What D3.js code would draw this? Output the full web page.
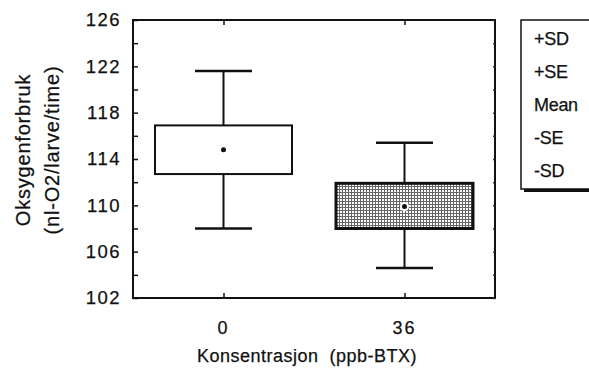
<!DOCTYPE html>
<html>
<head>
<meta charset="utf-8">
<script src="https://cdnjs.cloudflare.com/ajax/libs/d3/7.8.5/d3.min.js"></script>
<style>
  body { margin: 0; background: #fff; }
  text { font-family: "Liberation Sans", Arial, sans-serif; fill: #111; stroke: #111; stroke-width: 0.25px; }
</style>
</head>
<body>
<div id="chart"></div>
<script>
// data
var categories = ["0", "36"];
var sdHigh = [121.6, 115.4];
var seHigh = [116.9, 111.9];
var means = [114.8, 109.9];
var seLow = [112.7, 108.0];
var sdLow = [108.0, 104.6];
var yTicks = [102, 106, 110, 114, 118, 122, 126];
var yMinor = d3.range(102, 127, 2);
var legendLabels = ["+SD", "+SE", "Mean", "-SE", "-SD"];

var width = 589, height = 371;
var margin = { top: 20, right: 94, bottom: 73, left: 133 };

var svg = d3.select("#chart").append("svg")
    .attr("width", width)
    .attr("height", height);

var defs = svg.append("defs");
var pat = defs.append("pattern")
    .attr("id", "dots")
    .attr("width", 3).attr("height", 3)
    .attr("patternUnits", "userSpaceOnUse");
pat.append("rect").attr("width", 3).attr("height", 3).attr("fill", "#fff");
pat.append("rect").attr("width", 3).attr("height", 1).attr("fill", "#666");
pat.append("rect").attr("width", 1).attr("height", 3).attr("fill", "#666");

// scales
var x = d3.scalePoint()
    .domain(categories)
    .range([margin.left, width - margin.right])
    .padding(0.5);
var y = d3.scaleLinear()
    .domain([102, 126])
    .range([height - margin.bottom, margin.top]);

var x0 = margin.left, x1 = width - margin.right;
var y0 = y(102), y1 = y(126);

// frame
svg.append("rect")
    .attr("x", x0).attr("y", y1)
    .attr("width", x1 - x0).attr("height", y0 - y1)
    .attr("fill", "none").attr("stroke", "#111").attr("stroke-width", 2);

// left axis, ticks pointing inward
var leftAxis = svg.append("g")
    .attr("transform", "translate(" + x0 + ",0)")
    .call(d3.axisRight(y).tickValues(yMinor).tickSize(5).tickFormat(""));
leftAxis.select(".domain").remove();
leftAxis.selectAll("line").attr("stroke", "#111").attr("stroke-width", 1.5);

var leftLabels = svg.append("g")
    .attr("transform", "translate(" + (x0 - 12) + ",0)")
    .call(d3.axisLeft(y).tickValues(yTicks).tickSize(0).tickFormat(d3.format("d")));
leftLabels.select(".domain").remove();
leftLabels.selectAll("text")
    .attr("font-family", null)
    .attr("font-size", null)
    .style("font-size", "18.5px")
    .style("letter-spacing", "1.5px")
    .attr("x", 0)
    .attr("fill", "#111");

// right axis small ticks
var rightAxis = svg.append("g")
    .attr("transform", "translate(" + x1 + ",0)")
    .call(d3.axisLeft(y).tickValues(yMinor).tickSize(2).tickFormat(""));
rightAxis.select(".domain").remove();
rightAxis.selectAll("line").attr("stroke", "#333").attr("stroke-width", 1.5);

// top and bottom category ticks
var topAxis = svg.append("g")
    .attr("transform", "translate(0," + y1 + ")")
    .call(d3.axisBottom(x).tickSize(5).tickFormat(""));
topAxis.select(".domain").remove();
topAxis.selectAll("line").attr("stroke", "#111").attr("stroke-width", 1.5);

var bottomAxis = svg.append("g")
    .attr("transform", "translate(0," + y0 + ")")
    .call(d3.axisTop(x).tickSize(5).tickFormat(""));
bottomAxis.select(".domain").remove();
bottomAxis.selectAll("line").attr("stroke", "#111").attr("stroke-width", 1.5);

svg.append("g").selectAll("text")
    .data(categories)
    .enter().append("text")
    .attr("x", function (d) { return x(d); })
    .attr("y", 334)
    .attr("text-anchor", "middle")
    .style("font-size", "18px")
    .style("letter-spacing", "2px")
    .text(function (d) { return d; });

// axis titles
svg.append("text")
    .attr("x", 307).attr("y", 362)
    .attr("text-anchor", "middle")
    .style("font-size", "18px")
    .style("letter-spacing", "0.5px")
    .style("white-space", "pre")
    .text("Konsentrasjon  (ppb-BTX)");

svg.append("text")
    .attr("transform", "translate(30,150) rotate(-90)")
    .attr("text-anchor", "middle")
    .style("font-size", "20px")
    .style("letter-spacing", "0.8px")
    .text("Oksygenforbruk");
svg.append("text")
    .attr("transform", "translate(59,150) rotate(-90)")
    .attr("text-anchor", "middle")
    .style("font-size", "20px")
    .style("letter-spacing", "0.8px")
    .text("(nl-O2/larve/time)");

// boxes
var boxW = 137, capW = 57;
var groups = svg.append("g").selectAll("g")
    .data(categories)
    .enter().append("g");

groups.append("line")
    .attr("x1", function (d) { return x(d); })
    .attr("x2", function (d) { return x(d); })
    .attr("y1", function (d, i) { return y(sdHigh[i]); })
    .attr("y2", function (d, i) { return y(sdLow[i]); })
    .attr("stroke", "#111").attr("stroke-width", 2);

groups.append("line")
    .attr("x1", function (d) { return x(d) - capW / 2; })
    .attr("x2", function (d) { return x(d) + capW / 2; })
    .attr("y1", function (d, i) { return y(sdHigh[i]); })
    .attr("y2", function (d, i) { return y(sdHigh[i]); })
    .attr("stroke", "#111").attr("stroke-width", 2.5);

groups.append("line")
    .attr("x1", function (d) { return x(d) - capW / 2; })
    .attr("x2", function (d) { return x(d) + capW / 2; })
    .attr("y1", function (d, i) { return y(sdLow[i]); })
    .attr("y2", function (d, i) { return y(sdLow[i]); })
    .attr("stroke", "#111").attr("stroke-width", 2.5);

groups.append("rect")
    .attr("x", function (d) { return x(d) - boxW / 2; })
    .attr("y", function (d, i) { return y(seHigh[i]); })
    .attr("width", boxW)
    .attr("height", function (d, i) { return y(seLow[i]) - y(seHigh[i]); })
    .attr("fill", function (d, i) { return i === 0 ? "#fff" : "url(#dots)"; })
    .attr("stroke", "#111")
    .attr("stroke-width", function (d, i) { return i === 0 ? 2 : 3; });

groups.filter(function (d, i) { return i === 1; })
    .append("circle")
    .attr("cx", function (d) { return x(d); })
    .attr("cy", y(means[1]))
    .attr("r", 4.5)
    .attr("fill", "#fff");

groups.append("circle")
    .attr("cx", function (d) { return x(d); })
    .attr("cy", function (d, i) { return y(means[i]); })
    .attr("r", 2.5)
    .attr("fill", "#111");

// legend box with shadow
var lg = svg.append("g");
lg.append("rect")
    .attr("x", 524).attr("y", 23)
    .attr("width", 100).attr("height", 169)
    .attr("fill", "#111");
lg.append("rect")
    .attr("x", 521).attr("y", 20)
    .attr("width", 100).attr("height", 169)
    .attr("fill", "#fff").attr("stroke", "#111").attr("stroke-width", 1.5);

var ly = d3.scalePoint()
    .domain(legendLabels)
    .range([38, 170]);

lg.selectAll("text.lab")
    .data(legendLabels)
    .enter().append("text")
    .attr("class", "lab")
    .attr("x", 534)
    .attr("y", function (d) { return ly(d) + 6.5; })
    .style("font-size", "18px")
    .style("letter-spacing", "-0.3px")
    .text(function (d) { return d; });
</script>
</body>
</html>
